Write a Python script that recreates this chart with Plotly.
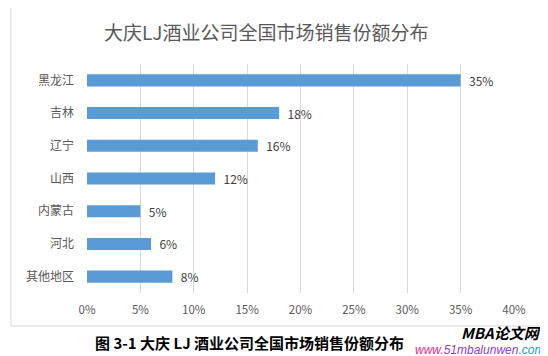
import plotly.graph_objects as go

categories = ["黑龙江", "吉林", "辽宁", "山西", "内蒙古", "河北", "其他地区"]
shares = [35, 18, 16, 12, 5, 6, 8]
share_labels = ["35%", "18%", "16%", "12%", "5%", "6%", "8%"]
tick_vals = [0, 5, 10, 15, 20, 25, 30, 35, 40]
tick_text = ["0%", "5%", "10%", "15%", "20%", "25%", "30%", "35%", "40%"]

FONT = "Noto Sans CJK SC, Noto Sans, sans-serif"
OFF = 8  # default body margin of the page
W, H = 548 - OFF, 356 - OFF
# plot area in page pixels: x 87..514, y 64..293
PX0, PX1, PY0, PY1 = 87, 514, 64, 293
L, R = PX0 - OFF, W - (PX1 - OFF)
T, B = PY0 - OFF, H - (PY1 - OFF)
pw, ph = PX1 - PX0, PY1 - PY0

def px_x(x):
    return (x - PX0) / pw

def px_y(y):
    return (PY1 - y) / ph

fig = go.Figure(go.Bar(
    x=shares, y=categories, orientation="h",
    marker=dict(color="#5B9BD5", line=dict(width=0)),
    text=share_labels, texttemplate="  %{text}",
    textposition="outside", constraintext="none",
    textfont=dict(family=FONT, size=12, color="#404040"),
    cliponaxis=False,
))

fig.update_layout(
    width=W, height=H,
    margin=dict(l=L, r=R, t=T, b=B, autoexpand=False),
    paper_bgcolor="white", plot_bgcolor="white",
    bargap=0.63,
    showlegend=False,
    xaxis=dict(range=[0, 40], tickvals=tick_vals, ticktext=tick_text,
               showgrid=True, gridcolor="#D9D9D9", gridwidth=1,
               zeroline=False, showline=False, ticks="", automargin=False,
               ticklabelstandoff=8,
               tickfont=dict(family=FONT, size=11.5, color="#595959")),
    yaxis=dict(autorange="reversed", showgrid=False, zeroline=False,
               showline=False, ticks="", ticklabelstandoff=12, automargin=False,
               tickfont=dict(family=FONT, size=12, color="#595959")),
    shapes=[dict(type="rect", xref="paper", yref="paper",
                 x0=px_x(11), x1=px_x(543), y0=px_y(326), y1=px_y(7),
                 line=dict(color="#D9D9D9", width=1), fillcolor="rgba(0,0,0,0)",
                 layer="below")],
    annotations=[
        dict(text="大庆LJ酒业公司全国市场销售份额分布", xref="paper", yref="paper",
             x=px_x(266), y=px_y(31), xanchor="center", yanchor="middle",
             showarrow=False, font=dict(family=FONT, size=19, color="#595959")),
        dict(text="<b>图 3-1 大庆 LJ 酒业公司全国市场销售份额分布</b>", xref="paper", yref="paper",
             x=px_x(249), y=px_y(342), xanchor="center", yanchor="middle",
             showarrow=False, font=dict(family=FONT, size=15, color="#000000")),
        dict(text="<b><i>MBA论文网</i></b>", xref="paper", yref="paper",
             x=px_x(543), y=px_y(332), xanchor="right", yanchor="middle",
             showarrow=False, font=dict(family=FONT, size=15, color="#000000")),
        dict(text="<i><span style='color:#E0308A'>www.</span>"
                  "<span style='color:#9040C0'>51mbalunwen</span>"
                  "<span style='color:#20A0C0'>.com</span></i>",
             xref="paper", yref="paper",
             x=px_x(546), y=px_y(350), xanchor="right", yanchor="middle",
             showarrow=False, font=dict(family="Liberation Sans, Arial, sans-serif", size=12)),
    ],
)

fig.write_html("out.html")
